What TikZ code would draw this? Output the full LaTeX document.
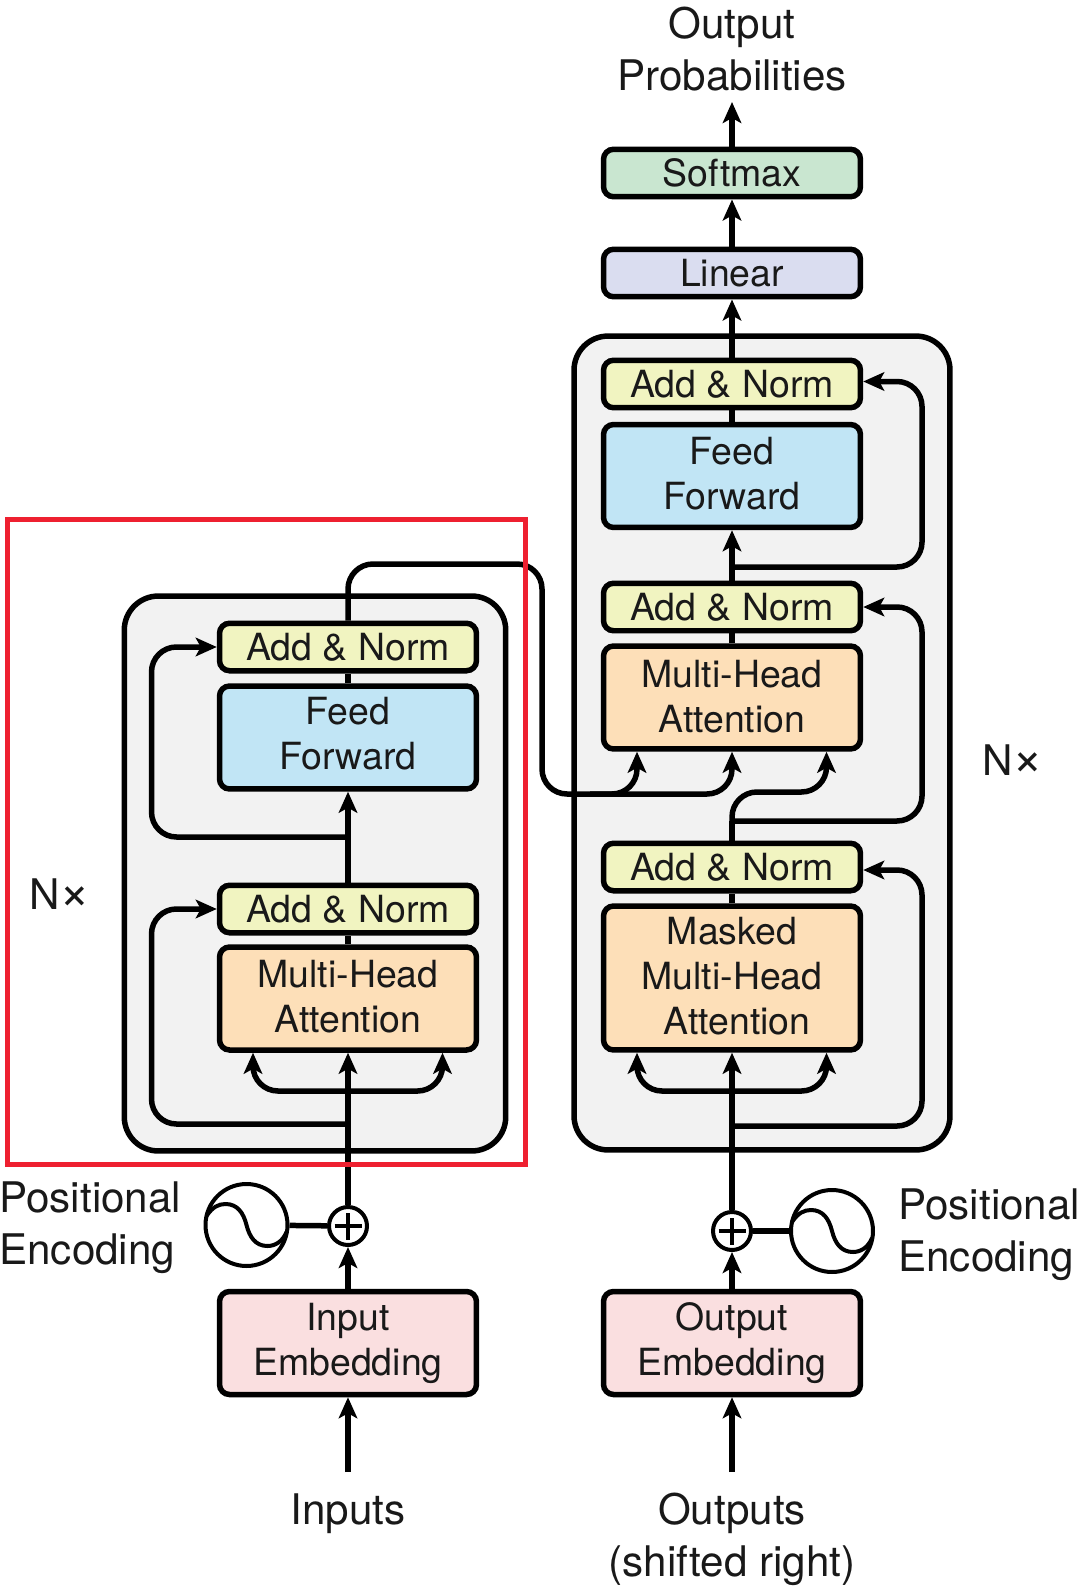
\documentclass[tikz,border=0pt]{standalone}
\usepackage{fontspec}
\setmainfont{TeX Gyre Heros}
\usetikzlibrary{arrows.meta}
\definecolor{normcol}{HTML}{F1F4C1}
\definecolor{feedcol}{HTML}{C1E5F5}
\definecolor{attncol}{HTML}{FDDFB8}
\definecolor{softcol}{HTML}{C9E6D0}
\definecolor{lincol}{HTML}{DADDF0}
\definecolor{embcol}{HTML}{FADFE0}
\definecolor{framecol}{HTML}{EE2030}
\tikzset{x=0.02cm,y=-0.02cm,
    every node/.style={
        text=black!90},
    block/.style={
        draw,
        rounded corners=0.2cm,
        line width=0.11cm,
        align=center,
        inner sep=0pt,
        minimum width=5.14cm,
        font=\fontsize{21.3}{25.6}\selectfont},
    onerow/.style={block,minimum height=0.95cm},
    tworow/.style={block,minimum height=2.06cm},
    threerow/.style={block,minimum height=2.88cm},
    lifted/.style={execute at end node={\rule[-#1]{0pt}{0pt}}},
    dropped/.style={execute at begin node={\rule{0pt}{#1}}},
    layerbox/.style={
        draw,
        fill=black!5,
        rounded corners=0.68cm,
        line width=0.11cm},
    label/.style={
        align=center,
        inner sep=0pt,
        font=\fontsize{24}{29.6}\selectfont},
    addsym/.style={
        draw,
        circle,
        fill=white,
        inner sep=0pt,
        line width=0.08cm,
        minimum size=0.76cm,
        path picture={
            \draw[line width=0.07cm] ([xshift=-0.27cm]path picture bounding box.center) -- ([xshift=0.27cm]path picture bounding box.center);
            \draw[line width=0.07cm] ([yshift=-0.27cm]path picture bounding box.center) -- ([yshift=0.27cm]path picture bounding box.center);}},
    posenc/.style={
        draw,
        circle,
        fill=white,
        inner sep=0pt,
        line width=0.08cm,
        minimum size=1.64cm},
    link/.style={
        draw,
        line width=0.11cm,
        rounded corners=0.5cm},
    flow/.style={
        link,
        -{Stealth[length=0.42cm,width=0.37cm,inset=0.1cm]}}}
\newcommand{\sinecurve}[1]{
    \draw[line width=0.08cm,shift={(#1.center)}] (-40,-9) .. controls (-34,-18) and (-28,-21) .. (-21,-21)
        .. controls (-9,-21) and (-3,-12) .. (0,0)
        .. controls (3,12) and (9,21) .. (21,21)
        .. controls (28,21) and (36,17) .. (40,7);}
\newcommand{\nxtext}{N{\fontsize{30}{30}\selectfont ×}}

\begin{document}
\begin{tikzpicture}
    \useasboundingbox (0,0) rectangle (1080,1591);

    \node[layerbox,minimum width=7.63cm,minimum height=11.1cm] (encblock) at (315,873.5) {};
    \node[layerbox,minimum width=7.52cm,minimum height=16.28cm] (decblock) at (762,743) {};

    % encoder side
    \node[onerow,fill=normcol] (eadd1) at (348,647) {Add \& Norm};
    \node[tworow,fill=feedcol,lifted=0.16cm] (eff) at (348,737.5) {Feed\\Forward};
    \node[onerow,fill=normcol] (eadd2) at (348,909) {Add \& Norm};
    \node[tworow,fill=attncol,lifted=0.08cm] (emha) at (348,998.5) {Multi-Head\\Attention};
    \node[tworow,fill=embcol,dropped=0.63cm] (einp) at (348,1343) {Input\\Embedding};
    \node[addsym] (eplus) at (348,1226) {};
    \node[posenc] (epos) at (246.5,1225) {};
    \sinecurve{epos}

    % decoder side
    \node[onerow,fill=softcol] (soft) at (732,173) {Softmax};
    \node[onerow,fill=lincol] (lin) at (732,273) {Linear};
    \node[onerow,fill=normcol] (dadd1) at (732,384) {Add \& Norm};
    \node[tworow,fill=feedcol,lifted=0.12cm] (dff) at (732,476) {Feed\\Forward};
    \node[onerow,fill=normcol] (dadd2) at (732,607) {Add \& Norm};
    \node[tworow,fill=attncol,lifted=0.05cm] (dmha) at (732,697.5) {Multi-Head\\Attention};
    \node[onerow,fill=normcol] (dadd3) at (732,867) {Add \& Norm};
    \node[threerow,fill=attncol,lifted=0.08cm] (dmask) at (732,978) {Masked\\Multi-Head\\\hspace*{0.2cm}Attention};
    \node[tworow,fill=embcol,dropped=0.63cm] (doutp) at (732,1343) {Output\\Embedding};
    \node[addsym] (dplus) at (732,1231) {};
    \node[posenc] (dpos) at (832,1231) {};
    \sinecurve{dpos}

    % texts
    \node[label] (outprob) at (732,49) {Output\\Probabilities};
    \node[label] (inputs) at (348,1514) {Inputs};
    \node[label] (outputs) at (732,1539) {Outputs\\(shifted right)};
    \node[label,align=left,anchor=west] (eposlab) at (-1,1228) {Positional\\Encoding};
    \node[label,align=left,anchor=west] (dposlab) at (898,1235) {Positional\\Encoding};
    \node[label] (enx) at (60,894) {\nxtext};
    \node[label] (dnx) at (1013,760) {\nxtext};

    % free ends and bends
    \coordinate (inend) at (348,1472);
    \coordinate (outend) at (732,1472);
    \coordinate (probtip) at (732,102);
    \coordinate (ebase) at (348,1124);
    \coordinate (etap) at (348,1091);
    \coordinate (eskip) at (348,837);
    \coordinate (ebus1) at (542,564);
    \coordinate (ebus2) at (542,794);
    \coordinate (etap2) at (590,794);
    \coordinate (dbase) at (732,1126);
    \coordinate (dtap) at (732,1091);
    \coordinate (dskip1) at (732,821);
    \coordinate (dskip2) at (732,567);
    \coordinate (dbend) at (732,792);

    % connectors
    \draw[flow] (inend) -- (einp);
    \draw[flow] (einp) -- (eplus);
    \draw[link] (epos) -- (eplus);
    \draw[flow] (eplus) -- (emha);
    \draw[link] (emha) -- (eadd2);
    \draw[flow] (eadd2) -- (eff);
    \draw[link] (eff) -- (eadd1);
    \draw[flow] (ebase) -| (151.5,909) -- (eadd2);
    \draw[flow] (eskip) -| (151.5,647) -- (eadd1);
    \draw[flow] (etap) -| (emha.south -| 253,0);
    \draw[flow] (etap) -| (emha.south -| 442.5,0);
    \draw[flow] (eadd1) |- (ebus1) -- (ebus2) -| (dmha.south -| 637,0);
    \draw[flow] (etap2) -| (dmha);

    \draw[flow] (outend) -- (doutp);
    \draw[flow] (doutp) -- (dplus);
    \draw[link] (dpos) -- (dplus);
    \draw[flow] (dplus) -- (dmask);
    \draw[link] (dmask) -- (dadd3);
    \draw[link] (dadd3) -- (dskip1);
    \draw[flow] (dskip1) -| (922,607) -- (dadd2);
    \draw[flow] (dtap) -| (dmask.south -| 637,0);
    \draw[flow] (dtap) -| (dmask.south -| 826.5,0);
    \draw[flow] (dbase) -| (922,870) -- (dadd3.east |- 922,870);
    \draw[flow] (dskip1) -- (dbend) -| (dmha.south -| 826.5,0);
    \draw[link] (dmha) -- (dadd2);
    \draw[flow] (dadd2) -- (dff);
    \draw[flow] (dskip2) -| (922,381.5) -- (dadd1.east |- 922,381.5);
    \draw[link] (dff) -- (dadd1);
    \draw[flow] (dadd1) -- (lin);
    \draw[flow] (lin) -- (soft);
    \draw[flow] (soft) -- (probtip);

    \node[draw=framecol,line width=0.1cm,minimum width=10.35cm,minimum height=12.92cm] (frame) at (266.3,842) {};
\end{tikzpicture}
\end{document}
